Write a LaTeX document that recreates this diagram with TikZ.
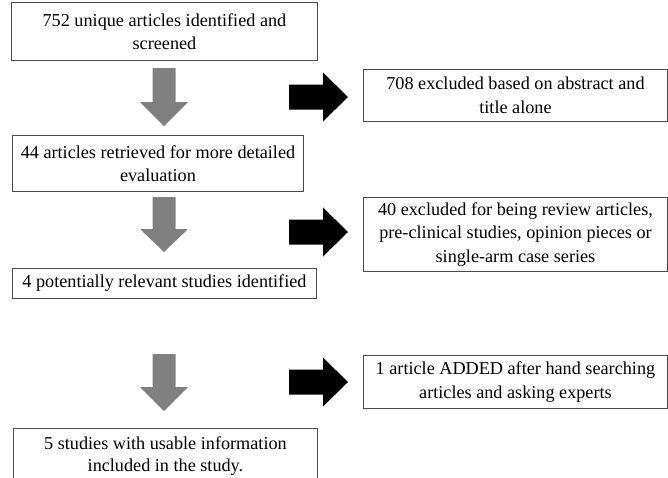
\documentclass[tikz,border=0pt]{standalone}
\usepackage{fontspec}
\setmainfont{Liberation Serif}
\definecolor{boxline}{HTML}{4A4A4A}
\definecolor{downgray}{HTML}{808080}
\tikzset{
  box/.style={draw=boxline, line width=0.9pt, fill=white, align=center, inner sep=3pt,
    font=\fontsize{18.2}{23.5}\selectfont, anchor=north west},
  txt/.style={align=center, inner sep=0pt, font=\fontsize{18.2}{22}\selectfont},
  downarrow/.style={fill=downgray, draw=none},
  rightarrow/.style={fill=black, draw=none},
}
\newcommand{\downblock}[4]{% x center, shaft top, head base, tip
  \fill[downarrow] (#1-11.5,#2) -- (#1+11.5,#2) -- (#1+11.5,#3) -- (#1+24,#3)
    -- (#1,#4) -- (#1-24,#3) -- (#1-11.5,#3) -- cycle;}
\newcommand{\rightblock}[1]{% y center
  \fill[rightarrow] (289,#1-12.5) -- (323,#1-12.5) -- (323,#1-24.5) -- (348,#1)
    -- (323,#1+24.5) -- (323,#1+12.5) -- (289,#1+12.5) -- cycle;}
\begin{document}
\begin{tikzpicture}[x=1pt,y=-1pt]
\useasboundingbox (0,0) rectangle (668,477);
\clip (0,0) rectangle (668,477);

% left column boxes
\node[box, minimum width=306, minimum height=58] (b1) at (11,2)
  {752 unique articles identified and\\screened};
\node[box, minimum width=291, minimum height=56] (b2) at (12,135)
  {44 articles retrieved for more detailed\\evaluation};
\node[box, minimum width=304, minimum height=30] (b3) at (12,268)
  {4 potentially relevant studies identified};
\node[box, minimum width=304, minimum height=80] (b4) at (13,428) {};
\node[txt, anchor=north] (b4t) at ([yshift=-8pt]b4.north)
  {5 studies with usable information\\included in the study.};

% right column boxes
\node[box, minimum width=304, minimum height=52] (e1) at (363,69)
  {708 excluded based on abstract and\\title alone};
\node[box, minimum width=304, minimum height=74] (e2) at (363,197)
  {40 excluded for being review articles,\\pre-clinical studies, opinion pieces or\\single-arm case series};
\node[box, minimum width=304, minimum height=53] (e3) at (363,355)
  {1 article ADDED after hand searching\\articles and asking experts};

% grey downward block arrows
\downblock{164}{68}{102}{126}
\downblock{164}{197}{229}{252}
\downblock{164}{354}{387}{411}

% black rightward block arrows
\rightblock{97}
\rightblock{232}
\rightblock{382}
\end{tikzpicture}
\end{document}
